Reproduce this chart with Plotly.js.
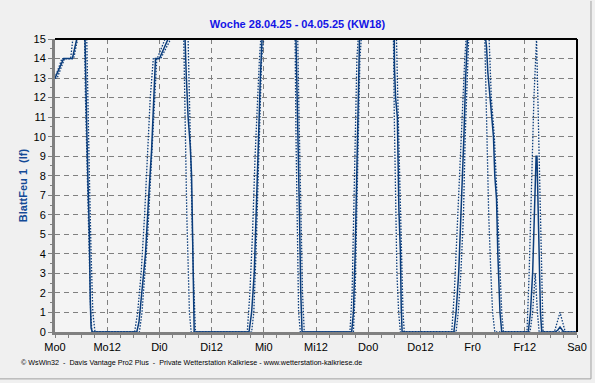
<!DOCTYPE html>
<html><head><meta charset="utf-8">
<script src="https://cdn.plot.ly/plotly-3.0.1.min.js"></script>
<style>html,body{margin:0;padding:0;background:#f0f0f0;}#c{width:595px;height:383px;}</style>
</head><body><div id="c"></div>
<script>
// hours since Monday 00:00
const tickVals = [0,12,24,36,48,60,72,84,96,108,120];
const tickText = ["Mo0","Mo12","Di0","Di12","Mi0","Mi12","Do0","Do12","Fr0","Fr12","Sa0"];

// average (solid)
const tAvg = [0,2,4,5,6.9,7.0,7.3,7.6,7.9,8.1,8.3,8.6, 18.8,19.3,20,20.8,21.5,22.2,23.1,24,26, 29.9,30.2,30.6,31.1,31.4,31.7,32, 44.6,45.2,45.8,46.3,46.8,47.2,47.6, 55.4,55.6,55.9,56.2,56.5,56.8, 68.2,68.6,69,69.4,69.7,70, 78,78.05,78.3,78.7,79.05,79.4,79.6,79.8, 91.7,92.2,92.8,93.5,94,94.4,94.8, 99,99.2,99.5,100,100.2,100.8,101.1,101.5,101.8,102.3,102.7, 108.8,109.3,109.8,110.2,110.6,110.8,111.2,111.6,111.9, 115,115.6,116.1,116.6,117,120];
const vAvg = [13,14,14,15,15,13.5,10.5,7.5,5.1,1.7,0.2,0, 0,0.5,2,4,6.8,9.3,14,14,15, 15,13,11,9.5,8,4,0, 0,1,3,6,10,13,15, 15,13,10,6,2,0, 0,1,4,9,13,15, 15,13.5,12,11,6.3,4.1,1.2,0, 0,1,3,6.8,10,13,15, 15,14.6,13.3,12,11.5,10,8,6.8,4,1,0, 0,1,3,6,9,9,4,1,0, 0,0.1,0.25,0.1,0,0];

// maximum (dotted)
const tMax = [0,1.6,3.6,4.1, 7.3,7.5,7.9,8.3,8.7,9.2, 18.3,19,19.8,20.6,21.2,21.9,22.6,23.5,25.3, 30.6,31,31.4,31.8,32.3, 44.2,44.8,45.4,46,46.5,47,47.3, 55.8,56.1,56.5,56.9,57.3, 67.8,68.3,68.7,69.1,69.4,69.7, 78.5,78.8,79.2,79.6,80,80.3, 91.2,91.8,92.4,93.1,93.7,94.2,94.5, 99.8,100.3,101,101.6,102.2,102.7,103.1, 108.5,109,109.6,110.1,110.7,111.1,111.7,112.2, 114.8,115.5,116.1,116.7,117.3,120];
const vMax = [13,14,14,15, 15,12,8,4,1,0, 0,1,3,6,9,12,14,14,15, 15,11,7,3,0, 0,2,5,9,12,14,15, 15,11,6,2,0, 0,2,6,11,14,15, 15,12,8,4,1,0, 0,2,5,9,12,14,15, 15,12,10,7,4,1,0, 0,3,8,12,15,11,5,0, 0,0.5,1,0.5,0,0];

// minimum (dotted)
const tMin = [0,0.5,2.2,4.3,5.2, 6.8,7.0,7.4,7.8,8.2,8.5, 19.4,20,20.6,21.3,22,22.7,23.4,24.3,26.6, 29.6,29.8,30.3,30.9,31.3, 45.2,45.7,46.2,46.7,47.1,47.5,48, 55.2,55.4,55.7,56,56.4, 68.6,69,69.4,69.8,70.1,70.4, 77.8,78,78.3,78.6,79,79.4, 92.2,92.7,93.3,93.9,94.3,94.7,95.1, 98.8,99,99.3,99.7,100.2,100.6,101.1, 109.2,109.8,110.4,110.9,111.3, 120];
const vMin = [13,13,14,14,15, 15,12,8,4,1,0, 0,1,3,5,8,11,14,14,15, 15,12,6,1,0, 0,1,4,8,12,14,15, 15,10,5,1,0, 0,2,6,11,14,15, 15,11,7,3,1,0, 0,1,3,6,10,13,15, 15,13,10,6,3,1,0, 0,1,3,1,0, 0];

const lineCol = '#0b3d7c';
const traces = [
  {x:tMax, y:vMax, mode:'lines', line:{color:lineCol, width:1.3, dash:'1.5px,1.5px'}, hoverinfo:'skip'},
  {x:tMin, y:vMin, mode:'lines', line:{color:lineCol, width:1.3, dash:'1.5px,1.5px'}, hoverinfo:'skip'},
  {x:tAvg, y:vAvg, mode:'lines', line:{color:lineCol, width:1.5}, hoverinfo:'skip'}
];

const font = {family:'"Liberation Sans", Arial, sans-serif', size:11, color:'#000'};
const layout = {
  width:595, height:383,
  margin:{l:55, r:18, t:39, b:51},
  paper_bgcolor:'#f0f0f0', plot_bgcolor:'#f4f4f4',
  showlegend:false, font:font,
  title:{text:'<b>Woche 28.04.25 - 04.05.25 (KW18)</b>', x:0.5, xanchor:'center', y:0.937, yanchor:'middle', yref:'container',
         font:{family:'"Liberation Sans", Arial, sans-serif', size:11, color:'#1414e6'}},
  xaxis:{range:[0,120], tickmode:'array', tickvals:tickVals, ticktext:tickText,
         ticks:'outside', ticklen:3, tickcolor:'#808080', tickwidth:1,
         showline:true, linecolor:'#808080', linewidth:3,
         showgrid:true, gridcolor:'#808080', griddash:'5px,4px', gridwidth:1,
         zeroline:false, tickfont:font,
         minor:{dtick:3, tick0:0, ticks:'outside', ticklen:3, tickcolor:'#808080', showgrid:false}},
  yaxis:{range:[0,15], dtick:1, tick0:0,
         ticks:'outside', ticklen:4, tickcolor:'#808080', tickwidth:1,
         showline:true, linecolor:'#808080', linewidth:3,
         showgrid:true, gridcolor:'#808080', griddash:'5px,4px', gridwidth:1,
         zeroline:false, tickfont:font,
         title:{text:'<b>BlattFeu 1  (lf)</b>', standoff:4, font:{family:'"Liberation Sans", Arial, sans-serif', size:11, color:'#134a96'}},
         minor:{dtick:0.5, ticks:'outside', ticklen:2, tickcolor:'#808080', showgrid:false}},
  shapes:[
    {type:'line', xref:'paper', yref:'paper', x0:0, x1:1, y0:1, y1:1, line:{color:'#000', width:2}},
    {type:'line', xref:'paper', yref:'paper', x0:1, x1:1, y0:0, y1:1, line:{color:'#000', width:2}},
    {type:'line', xref:'paper', yref:'paper', x0:1.0268, x1:1.0268, y0:-0.16, y1:1.13, line:{color:'#a0a0a0', width:1}},
    {type:'line', xref:'paper', yref:'paper', x0:-0.11, x1:1.0268, y0:-0.16, y1:-0.16, line:{color:'#a0a0a0', width:1}}
  ],
  annotations:[
    {text:'© WsWin32  -  Davis Vantage Pro2 Plus  -  Private Wetterstation Kalkriese - www.wetterstation-kalkriese.de',
     xref:'paper', yref:'paper', x:-0.069, y:-0.103, xanchor:'left', yanchor:'middle', showarrow:false,
     font:{family:'"Liberation Sans", Arial, sans-serif', size:7.2, color:'#000'}}
  ]
};
Plotly.newPlot('c', traces, layout, {displayModeBar:false, staticPlot:true});
</script></body></html>
